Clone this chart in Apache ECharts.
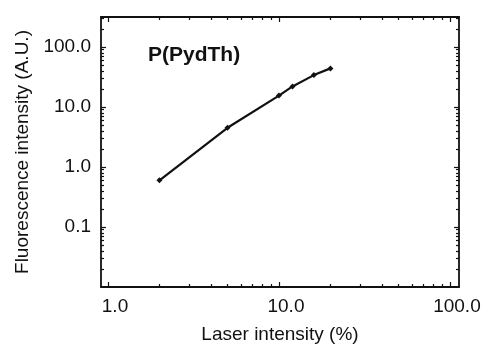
<!DOCTYPE html>
<html style="height: 100%">
<head>
<meta charset="utf-8">
<script src="https://cdn.jsdelivr.net/npm/echarts@6/dist/echarts.min.js"></script>
</head>
<body style="height: 100%; margin: 0; background: #fff">
<div id="container" style="width: 481px; height: 344px"></div>
<script type="text/javascript">
// values
var laser = [2, 5, 10, 12, 16, 20];
var fluor = [0.6, 4.5, 15.5, 22, 34, 44];
var xMajor = [1, 10, 100];
var xMinor = [2, 3, 4, 5, 6, 7, 8, 9, 20, 30, 40, 50, 60, 70, 80, 90];
var yMajor = [0.1, 1, 10, 100];
var yMinor = [0.02, 0.03, 0.04, 0.05, 0.06, 0.07, 0.08, 0.09,
              0.2, 0.3, 0.4, 0.5, 0.6, 0.7, 0.8, 0.9,
              2, 3, 4, 5, 6, 7, 8, 9,
              20, 30, 40, 50, 60, 70, 80, 90, 200, 300];
var xRange = [0.91, 113];
var yRange = [0.01, 316];

var font = 'Liberation Sans, Arial, sans-serif';
var ink = '#111';

function fmt(v) { return v.toFixed(1); }

// one log axis: line + ticks (+ labels when wanted)
function axis(pos, range, ticks, len, labels) {
    var a = {
        type: 'log',
        position: pos,
        min: range[0],
        max: range[1],
        axisLine: { show: !!labels, lineStyle: { color: ink, width: 1.8 } },
        axisTick: { show: true, inside: true, length: len, customValues: ticks,
                    lineStyle: { color: ink, width: 1.2 } },
        axisLabel: { show: false },
        splitLine: { show: false },
        minorTick: { show: false },
        minorSplitLine: { show: false }
    };
    if (labels) {
        a.axisLabel = { show: true, customValues: labels, formatter: fmt,
                        color: ink, fontFamily: font, fontSize: 19 };
    }
    return a;
}

var xb = axis('bottom', xRange, xMajor, 5, xMajor);
xb.axisLabel.margin = 10;
xb.axisLabel.padding = [0, 0, 0, 14];
xb.name = 'Laser intensity (%)';
xb.nameLocation = 'middle';
xb.nameGap = 38;
xb.nameTextStyle = { color: ink, fontFamily: font, fontSize: 19 };

var yl = axis('left', yRange, yMajor, 5, yMajor);
yl.axisLabel.margin = 10;
yl.name = 'Fluorescence intensity (A.U.)';
yl.nameLocation = 'middle';
yl.nameGap = 67;
yl.nameTextStyle = { color: ink, fontFamily: font, fontSize: 19 };

var xt = axis('top', xRange, xMajor, 5, null);
xt.axisLine.show = true;
var yr = axis('right', yRange, yMajor, 5, null);
yr.axisLine.show = true;

var option = {
    animation: false,
    backgroundColor: '#fff',
    title: {
        text: 'P(PydTh)',
        left: 148,
        top: 45,
        padding: 0,
        textStyle: { color: ink, fontFamily: font, fontSize: 21, fontWeight: 'bold' }
    },
    grid: { left: 101, right: 22, top: 17, bottom: 57, containLabel: false,
            outerBoundsMode: 'none' },
    xAxis: [xb, xt,
            axis('bottom', xRange, xMinor, 3, null),
            axis('top', xRange, xMinor, 3, null)],
    yAxis: [yl, yr,
            axis('left', yRange, yMinor, 3, null),
            axis('right', yRange, yMinor, 3, null)],
    series: [{
        type: 'line',
        xAxisIndex: 0,
        yAxisIndex: 0,
        data: laser.map(function (x, i) { return [x, fluor[i]]; }),
        symbol: 'diamond',
        symbolSize: 6,
        showSymbol: true,
        itemStyle: { color: ink },
        lineStyle: { color: ink, width: 2.2 }
    }]
};

var myChart = echarts.init(document.getElementById('container'));
myChart.setOption(option);
</script>
</body>
</html>
